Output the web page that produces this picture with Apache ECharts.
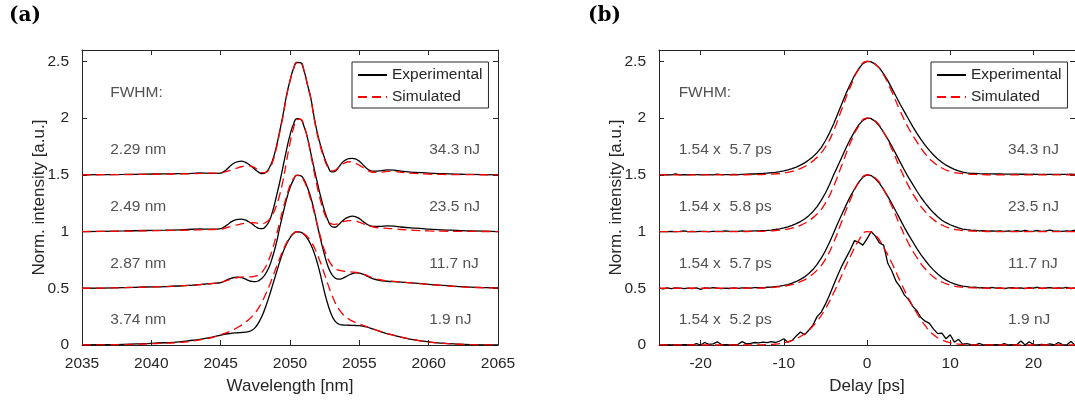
<!DOCTYPE html>
<html><head><meta charset="utf-8">
<script src="https://cdn.jsdelivr.net/npm/echarts@6/dist/echarts.min.js"></script>
<style>html,body{margin:0;padding:0;background:#fff}#c{width:1075px;height:400px}</style>
</head><body><div id="c"></div>
<script>
// ---------------- DATA ----------------
const offsets = [0, 0.5, 1, 1.5];            // 1.9, 11.7, 23.5, 34.3 nJ
const energies = ['1.9 nJ', '11.7 nJ', '23.5 nJ', '34.3 nJ'];
const fwhmSpec = ['3.74 nm', '2.87 nm', '2.49 nm', '2.29 nm'];
const fwhmAc = ['1.54 x  5.2 ps', '1.54 x  5.7 ps', '1.54 x  5.8 ps', '1.54 x  5.7 ps'];
const specTicks = [2035, 2040, 2045, 2050, 2055, 2060, 2065];
const delayTicks = [-20, -10, 0, 10, 20];
const intensityTicks = [0, 0.5, 1, 1.5, 2, 2.5];

// (a) spectra, wavelength [nm]
const lambdaNm = [2035, 2036.5, 2038, 2039.5, 2041, 2042, 2043, 2043.5, 2044, 2044.5,
  2045, 2045.25, 2045.5, 2045.75, 2046, 2046.25, 2046.5, 2046.75, 2047, 2047.25,
  2047.5, 2047.75, 2048, 2048.25, 2048.5, 2048.75, 2049, 2049.25, 2049.5, 2049.75,
  2050, 2050.25, 2050.5, 2050.75, 2051, 2051.25, 2051.5, 2051.75, 2052, 2052.25,
  2052.5, 2052.75, 2053, 2053.25, 2053.5, 2053.75, 2054, 2054.25, 2054.5, 2054.75,
  2055, 2055.25, 2055.5, 2055.75, 2056,
  2056.5, 2057, 2057.5, 2058, 2059, 2060, 2061, 2062, 2063, 2065];
const spec19Exp = [0, 0.002, 0.005, 0.012, 0.02, 0.028, 0.042, 0.05, 0.06, 0.073,
  0.088, 0.094, 0.099, 0.103, 0.106, 0.108, 0.11, 0.113, 0.118, 0.13,
  0.155, 0.2, 0.26, 0.34, 0.43, 0.53, 0.63, 0.73, 0.82, 0.89,
  0.945, 0.982, 0.998, 0.995, 0.975, 0.94, 0.885, 0.81, 0.71, 0.59,
  0.46, 0.35, 0.265, 0.21, 0.185, 0.177, 0.175, 0.174, 0.173, 0.172,
  0.17, 0.166, 0.16, 0.15, 0.14,
  0.12, 0.10, 0.085, 0.07, 0.045, 0.028, 0.016, 0.008, 0.003, 0];
const spec19Sim = [0, 0.001, 0.004, 0.009, 0.016, 0.022, 0.035, 0.045, 0.056, 0.07,
  0.09, 0.1, 0.112, 0.125, 0.14, 0.157, 0.175, 0.197, 0.222, 0.25,
  0.285, 0.33, 0.385, 0.45, 0.52, 0.6, 0.68, 0.76, 0.835, 0.9,
  0.95, 0.983, 0.998, 0.997, 0.98, 0.955, 0.915, 0.86, 0.79, 0.71,
  0.62, 0.53, 0.445, 0.375, 0.32, 0.28, 0.25, 0.228, 0.21, 0.197,
  0.185, 0.174, 0.163, 0.152, 0.142,
  0.12, 0.1, 0.085, 0.07, 0.045, 0.026, 0.014, 0.007, 0.003, 0];
const spec11Exp = [0, 0.002, 0.006, 0.011, 0.015, 0.02, 0.028, 0.033, 0.038, 0.043,
  0.05, 0.062, 0.076, 0.088, 0.095, 0.097, 0.094, 0.083, 0.07, 0.06,
  0.058, 0.068, 0.09, 0.13, 0.19, 0.28, 0.39, 0.53, 0.66, 0.785,
  0.885, 0.955, 0.995, 0.993, 0.96, 0.89, 0.80, 0.68, 0.54, 0.41,
  0.29, 0.19, 0.125, 0.09, 0.08, 0.085, 0.1, 0.117, 0.13, 0.135,
  0.133, 0.125, 0.112, 0.095, 0.082,
  0.068, 0.062, 0.058, 0.054, 0.045, 0.035, 0.025, 0.017, 0.01, 0.003];
const spec11Sim = [0, 0.002, 0.005, 0.01, 0.015, 0.02, 0.027, 0.032, 0.037, 0.043,
  0.05, 0.06, 0.07, 0.08, 0.089, 0.095, 0.099, 0.1, 0.1, 0.101,
  0.106, 0.12, 0.145, 0.19, 0.26, 0.35, 0.46, 0.58, 0.70, 0.81,
  0.905, 0.965, 0.997, 0.99, 0.95, 0.875, 0.78, 0.665, 0.545, 0.43,
  0.33, 0.255, 0.205, 0.175, 0.16, 0.153, 0.149, 0.146, 0.143, 0.14,
  0.135, 0.126, 0.115, 0.102, 0.09,
  0.075, 0.066, 0.06, 0.055, 0.045, 0.034, 0.024, 0.015, 0.008, 0.002];
const spec23Exp = [0, 0.002, 0.005, 0.009, 0.012, 0.015, 0.02, 0.023, 0.021, 0.02,
  0.025, 0.04, 0.06, 0.085, 0.1, 0.108, 0.11, 0.103, 0.088, 0.068,
  0.045, 0.028, 0.025, 0.045, 0.09, 0.18, 0.30, 0.43, 0.575, 0.72,
  0.85, 0.945, 0.995, 0.99, 0.93, 0.83, 0.69, 0.55, 0.415, 0.29,
  0.18, 0.095, 0.045, 0.038, 0.06, 0.09, 0.115, 0.13, 0.135, 0.13,
  0.115, 0.09, 0.068, 0.052, 0.045,
  0.045, 0.05, 0.048, 0.04, 0.03, 0.022, 0.015, 0.01, 0.005, 0];
const spec23Sim = [0, 0.001, 0.003, 0.006, 0.009, 0.011, 0.013, 0.015, 0.017, 0.018,
  0.02, 0.028, 0.036, 0.045, 0.053, 0.06, 0.067, 0.073, 0.077, 0.079,
  0.077, 0.072, 0.07, 0.08, 0.105, 0.15, 0.22, 0.32, 0.45, 0.62,
  0.78, 0.91, 0.985, 0.99, 0.935, 0.83, 0.68, 0.52, 0.375, 0.25,
  0.155, 0.095, 0.068, 0.063, 0.07, 0.082, 0.091, 0.096, 0.096, 0.091,
  0.082, 0.07, 0.058, 0.048, 0.04,
  0.032, 0.028, 0.024, 0.018, 0.011, 0.006, 0.003, 0.002, 0.001, 0];
const spec34Exp = [0, 0.001, 0.003, 0.006, 0.008, 0.01, 0.013, 0.016, 0.014, 0.012,
  0.015, 0.03, 0.055, 0.085, 0.105, 0.117, 0.12, 0.112, 0.095, 0.07,
  0.045, 0.022, 0.01, 0.02, 0.06, 0.13, 0.24, 0.38, 0.53, 0.70,
  0.83, 0.935, 0.99, 0.988, 0.92, 0.80, 0.675, 0.50, 0.355, 0.24,
  0.145, 0.07, 0.025, 0.03, 0.065, 0.105, 0.13, 0.143, 0.145, 0.138,
  0.12, 0.09, 0.06, 0.04, 0.032,
  0.035, 0.044, 0.042, 0.032, 0.022, 0.015, 0.01, 0.006, 0.003, 0];
const spec34Sim = [0, 0.001, 0.002, 0.004, 0.006, 0.008, 0.01, 0.012, 0.014, 0.015,
  0.018, 0.024, 0.032, 0.042, 0.052, 0.062, 0.071, 0.078, 0.08, 0.075,
  0.06, 0.038, 0.02, 0.022, 0.05, 0.115, 0.225, 0.37, 0.52, 0.69,
  0.825, 0.93, 0.99, 0.99, 0.925, 0.80, 0.67, 0.49, 0.34, 0.225,
  0.13, 0.065, 0.035, 0.04, 0.065, 0.09, 0.108, 0.115, 0.112, 0.1,
  0.085, 0.065, 0.045, 0.03, 0.022,
  0.022, 0.03, 0.03, 0.022, 0.012, 0.006, 0.003, 0.002, 0.001, 0];

// (b) autocorrelation, delay [ps]
const delayPs = [-25, -24.5, -24, -23.5, -23, -22.5, -22, -21.5, -21, -20.5,
  -20, -19.5, -19, -18.5, -18, -17.5, -17, -16.5, -16, -15.5,
  -15, -14.5, -14, -13.5, -13, -12.5, -12, -11.5, -11, -10.5,
  -10, -9.5, -9, -8.5, -8, -7.5, -7, -6.5, -6, -5.5,
  -5, -4.5, -4, -3.5, -3, -2.5, -2, -1.5, -1, -0.5,
  0, 0.5, 1, 1.5, 2, 2.5, 3, 3.5, 4, 4.5,
  5, 5.5, 6, 6.5, 7, 7.5, 8, 8.5, 9, 9.5,
  10, 10.5, 11, 11.5, 12, 12.5, 13, 13.5, 14, 14.5,
  15, 15.5, 16, 16.5, 17, 17.5, 18, 18.5, 19, 19.5,
  20, 20.5, 21, 21.5, 22, 22.5, 23, 23.5, 24, 24.5, 25];
const ac19Exp = [0.000, 0.000, 0.002, 0.000, 0.003, 0.000, 0.002, 0.004, 0.000, 0.012,
  0.000, 0.022, 0.005, 0.010, 0.028, 0.004, 0.002, 0.000, 0.003, 0.006,
  0.030, 0.010, 0.015, 0.022, 0.018, 0.026, 0.020, 0.030, 0.022, 0.035,
  0.055, 0.025, 0.040, 0.080, 0.115, 0.090, 0.130, 0.175, 0.250, 0.290,
  0.360, 0.440, 0.530, 0.620, 0.700, 0.770, 0.840, 0.920, 0.905, 0.880,
  0.935, 1.000, 0.960, 0.900, 0.880, 0.720, 0.650, 0.560, 0.510, 0.440,
  0.400, 0.340, 0.300, 0.240, 0.210, 0.190, 0.140, 0.100, 0.105, 0.055,
  0.090, 0.025, 0.050, 0.008, 0.012, 0.004, 0.000, 0.015, 0.000, 0.002,
  0.000, 0.003, 0.000, 0.012, 0.000, 0.004, 0.002, 0.035, 0.000, 0.028,
  0.004, 0.000, 0.006, 0.002, 0.010, 0.000, 0.022, 0.003, 0.000, 0.030, 0.000];
const ac11Exp = [0.002, -0.005, 0.003, -0.004, 0.004, 0.001, -0.003, 0.002, -0.002, 0.004,
  -0.01, 0.003, 0.0, 0.006, 0.001, -0.004, 0.002, -0.002, 0.003, -0.001,
  0.004, 0.003, 0.001, 0.005, 0.006, 0.004, 0.009, 0.01, 0.014, 0.018,
  0.025, 0.033, 0.045, 0.06, 0.078, 0.10, 0.13, 0.165, 0.21, 0.265,
  0.33, 0.405, 0.49, 0.575, 0.655, 0.735, 0.81, 0.875, 0.935, 0.978,
  1.0, 0.993, 0.965, 0.925, 0.87, 0.81, 0.745, 0.675, 0.605, 0.535,
  0.47, 0.41, 0.35, 0.295, 0.245, 0.20, 0.16, 0.125, 0.095, 0.072,
  0.053, 0.038, 0.027, 0.018, 0.014, 0.008, 0.01, 0.004, 0.006, 0.002,
  0.008, 0.001, 0.004, -0.004, 0.003, 0.006, 0.0, 0.004, -0.003, 0.005,
  0.002, 0.009, -0.002, 0.003, 0.006, -0.001, 0.004, 0.001, 0.007, -0.002, 0.004];
const ac23Exp = [0, 0, 0, 0.001, 0, 0.001, 0.005, 0, 0.001, 0,
  0.002, 0.001, 0, 0.002, 0.001, 0.001, 0.006, 0.001, 0.002, 0.001,
  0.006, 0.002, 0.004, 0.005, 0.006, 0.008, 0.01, 0.013, 0.018, 0.024,
  0.032, 0.042, 0.054, 0.07, 0.088, 0.11, 0.14, 0.175, 0.22, 0.275,
  0.34, 0.415, 0.50, 0.58, 0.66, 0.74, 0.815, 0.88, 0.94, 0.98,
  1.0, 0.995, 0.97, 0.93, 0.875, 0.815, 0.75, 0.68, 0.61, 0.54,
  0.475, 0.415, 0.355, 0.30, 0.25, 0.205, 0.165, 0.13, 0.10, 0.078,
  0.06, 0.045, 0.032, 0.022, 0.016, 0.012, 0.01, 0.006, 0.007, 0.004,
  0.005, 0.003, 0.006, 0.002, 0.005, 0.001, 0.008, 0.002, 0.01, 0.001,
  0.004, 0.009, 0.002, 0.005, 0.012, 0.003, 0.004, 0.002, 0.006, 0.003, 0.012];
const ac34Exp = [0, 0, 0.001, 0, 0.007, 0, 0.001, 0, 0.001, 0.002,
  0, 0.001, 0.002, 0, 0.006, 0.001, 0.002, 0.001, 0.003, 0.002,
  0.004, 0.006, 0.008, 0.007, 0.011, 0.012, 0.015, 0.018, 0.022, 0.028,
  0.035, 0.043, 0.054, 0.068, 0.085, 0.105, 0.13, 0.16, 0.195, 0.24,
  0.30, 0.37, 0.45, 0.54, 0.63, 0.72, 0.80, 0.875, 0.935, 0.98,
  1.0, 0.995, 0.975, 0.94, 0.89, 0.83, 0.76, 0.69, 0.62, 0.555,
  0.49, 0.425, 0.365, 0.31, 0.26, 0.215, 0.175, 0.14, 0.11, 0.085,
  0.065, 0.048, 0.034, 0.024, 0.017, 0.013, 0.012, 0.01, 0.009, 0.008,
  0.008, 0.007, 0.007, 0.006, 0.006, 0.006, 0.005, 0.006, 0.005, 0.004,
  0.005, 0.004, 0.004, 0.003, 0.004, 0.003, 0.004, 0.003, 0.003, 0.006, 0.003];

const delaySimPs = [-25, -24, -23, -22, -21, -20, -19, -18, -17, -16, -15, -14, -13, -12, -11, -10, -9, -8, -7, -6, -5, -4, -3, -2, -1,
  0, 1, 2, 3, 4, 5, 6, 7, 8, 9, 10, 11, 12, 13, 14, 15, 16, 17, 18, 19, 20, 21, 22, 23, 24, 25];
const ac19Sim = [0, 0, 0, 0, 0, 0, 0, 0, 0, 0, 0, 0, 0.001, 0.003, 0.008, 0.018, 0.04, 0.075, 0.13, 0.21, 0.32, 0.46, 0.62, 0.78, 0.92,
  1.0, 0.97, 0.86, 0.72, 0.56, 0.41, 0.28, 0.17, 0.09, 0.045, 0.02, 0.008, 0.003, 0.001, 0, 0, 0, 0, 0, 0, 0, 0, 0, 0, 0, 0];
const ac11Sim = [0, 0, 0, 0, 0, 0, 0, 0, 0, 0, 0, 0.001, 0.002, 0.005, 0.01, 0.018, 0.033, 0.058, 0.098, 0.16, 0.255, 0.405, 0.595, 0.78, 0.93,
  1.0, 0.972, 0.87, 0.72, 0.55, 0.395, 0.27, 0.17, 0.1, 0.055, 0.028, 0.013, 0.006, 0.003, 0.001, 0, 0, 0, 0, 0, 0, 0, 0, 0, 0, 0];
const ac23Sim = [0, 0, 0, 0, 0, 0, 0, 0, 0, 0, 0, 0.001, 0.002, 0.005, 0.009, 0.017, 0.031, 0.055, 0.095, 0.155, 0.25, 0.40, 0.59, 0.78, 0.93,
  1.0, 0.975, 0.875, 0.725, 0.555, 0.40, 0.275, 0.175, 0.105, 0.058, 0.029, 0.014, 0.006, 0.003, 0.001, 0, 0, 0, 0, 0, 0, 0, 0, 0, 0, 0];
const ac34Sim = [0, 0, 0, 0, 0, 0, 0, 0, 0, 0, 0, 0.001, 0.002, 0.004, 0.008, 0.016, 0.03, 0.055, 0.095, 0.155, 0.245, 0.39, 0.585, 0.775, 0.93,
  1.0, 0.975, 0.88, 0.73, 0.56, 0.41, 0.29, 0.185, 0.11, 0.06, 0.03, 0.014, 0.007, 0.003, 0.001, 0, 0, 0, 0, 0, 0, 0, 0, 0, 0, 0];

// ---------------- CHART ----------------
const FONT = 'Liberation Sans';
const FS = 15.5;
const FS_NAME = 17;
const TXT = '#262626';
const AX = '#262626';
const specExp = [spec19Exp, spec11Exp, spec23Exp, spec34Exp];
const specSim = [spec19Sim, spec11Sim, spec23Sim, spec34Sim];
const acExp = [ac19Exp, ac11Exp, ac23Exp, ac34Exp];
const acSim = [ac19Sim, ac11Sim, ac23Sim, ac34Sim];

function pts(xs, ys, off) { return xs.map((x, i) => [x, ys[i] + off]); }
const plain = v => String(v);

function xAx(gi, min, max, ticks, pos, name) {
  const bottom = pos === 'bottom';
  return {
    type: 'value', gridIndex: gi, position: pos, min: min, max: max,
    axisLine: { show: true, onZero: false, lineStyle: { color: AX, width: 1 } },
    axisTick: { show: true, inside: true, length: 5, customValues: ticks, lineStyle: { color: AX, width: 1 } },
    axisLabel: { show: bottom, customValues: ticks, formatter: plain, margin: 11, color: TXT, fontFamily: FONT, fontSize: FS },
    splitLine: { show: false },
    name: bottom ? name : '', nameLocation: 'middle', nameGap: 33, nameMoveOverlap: false,
    nameTextStyle: { color: TXT, fontFamily: FONT, fontSize: FS_NAME }
  };
}
function yAx(gi, pos) {
  const left = pos === 'left';
  return {
    type: 'value', gridIndex: gi, position: pos, min: 0, max: 2.6,
    axisLine: { show: true, onZero: false, lineStyle: { color: AX, width: 1 } },
    axisTick: { show: true, inside: true, length: 5, customValues: intensityTicks, lineStyle: { color: AX, width: 1 } },
    axisLabel: { show: left, customValues: intensityTicks, formatter: plain, margin: 13, color: TXT, fontFamily: FONT, fontSize: FS },
    splitLine: { show: false },
    name: left ? 'Norm. intensity [a.u.]' : '', nameLocation: 'middle', nameGap: 34, nameMoveOverlap: false,
    nameTextStyle: { color: TXT, fontFamily: FONT, fontSize: FS_NAME }
  };
}

const series = [];
function addPanel(xi, xsE, expArr, xsS, simArr, smoothE) {
  for (let k = 0; k < 4; k++) {
    series.push({
      type: 'line', name: 'Experimental', xAxisIndex: xi, yAxisIndex: xi,
      data: pts(xsE, expArr[k], offsets[k]), showSymbol: false, symbol: 'none',
      smooth: smoothE,
      lineStyle: { color: '#000', width: 1.3 }, itemStyle: { color: '#000' }, z: 2, silent: true
    });
  }
  for (let k = 0; k < 4; k++) {
    series.push({
      type: 'line', name: 'Simulated', xAxisIndex: xi, yAxisIndex: xi,
      data: pts(xsS, simArr[k], offsets[k]), showSymbol: false, symbol: 'none',
      smooth: 0.5,
      lineStyle: { color: '#ff0000', width: 1.3, type: [9, 5] }, itemStyle: { color: '#ff0000' }, z: 3, silent: true
    });
  }
}
addPanel(0, lambdaNm, specExp, lambdaNm, specSim, 0.5);
addPanel(2, delayPs, acExp, delaySimPs, acSim, false);

function textSeries(xi, items) {
  return {
    type: 'scatter', xAxisIndex: xi, yAxisIndex: xi, symbolSize: 1, silent: true,
    itemStyle: { color: 'rgba(0,0,0,0)' }, z: 5,
    label: { show: true, position: 'right', distance: 0, formatter: '{b}', color: TXT, fontFamily: FONT, fontSize: FS },
    data: items
  };
}
const labelLift = 0.22;
const itemsA = [{ name: 'FWHM:', value: [2037, 2.22] }];
const itemsB = [{ name: 'FWHM:', value: [-22.7, 2.22] }];
for (let k = 0; k < 4; k++) {
  itemsA.push({ name: fwhmSpec[k], value: [2037, offsets[k] + labelLift] });
  itemsA.push({ name: energies[k], value: [2060, offsets[k] + labelLift] });
  itemsB.push({ name: fwhmAc[k], value: [-22.7, offsets[k] + labelLift] });
  itemsB.push({ name: energies[k], value: [16.9, offsets[k] + labelLift] });
}
series.push(textSeries(0, itemsA));
series.push(textSeries(2, itemsB));

function legendAt(left) {
  return {
    left: left, top: 62, orient: 'vertical',
    backgroundColor: '#fff', borderColor: AX, borderWidth: 1, borderRadius: 0,
    padding: [5, 6, 3, 5], itemGap: 6, itemWidth: 29, itemHeight: 14,
    selectedMode: false,
    itemStyle: { opacity: 0 },
    textStyle: { color: TXT, fontFamily: FONT, fontSize: FS, lineHeight: 16 },
    data: [{ name: 'Experimental' }, { name: 'Simulated' }]
  };
}

const option = {
  animation: false,
  backgroundColor: '#fff',
  title: [
    { text: '(a)', left: 9, top: 6, padding: 0, textStyle: { fontFamily: 'DejaVu Serif', fontWeight: 'bold', fontSize: 20, color: '#000' } },
    { text: '(b)', left: 588, top: 6, padding: 0, textStyle: { fontFamily: 'DejaVu Serif', fontWeight: 'bold', fontSize: 20, color: '#000' } }
  ],
  grid: [
    { left: 82, top: 50, width: 416, height: 295 },
    { left: 659, top: 50, width: 419, height: 295 }
  ],
  legend: [legendAt(352), legendAt(931)],
  xAxis: [
    xAx(0, 2035, 2065, specTicks, 'bottom', 'Wavelength [nm]'),
    xAx(0, 2035, 2065, specTicks, 'top', ''),
    xAx(1, -25, 25, delayTicks, 'bottom', 'Delay [ps]'),
    xAx(1, -25, 25, delayTicks, 'top', '')
  ],
  yAxis: [yAx(0, 'left'), yAx(0, 'right'), yAx(1, 'left'), yAx(1, 'right')],
  series: series
};
const chart = echarts.init(document.getElementById('c'), null, { renderer: 'canvas' });
chart.setOption(option);
</script></body></html>
